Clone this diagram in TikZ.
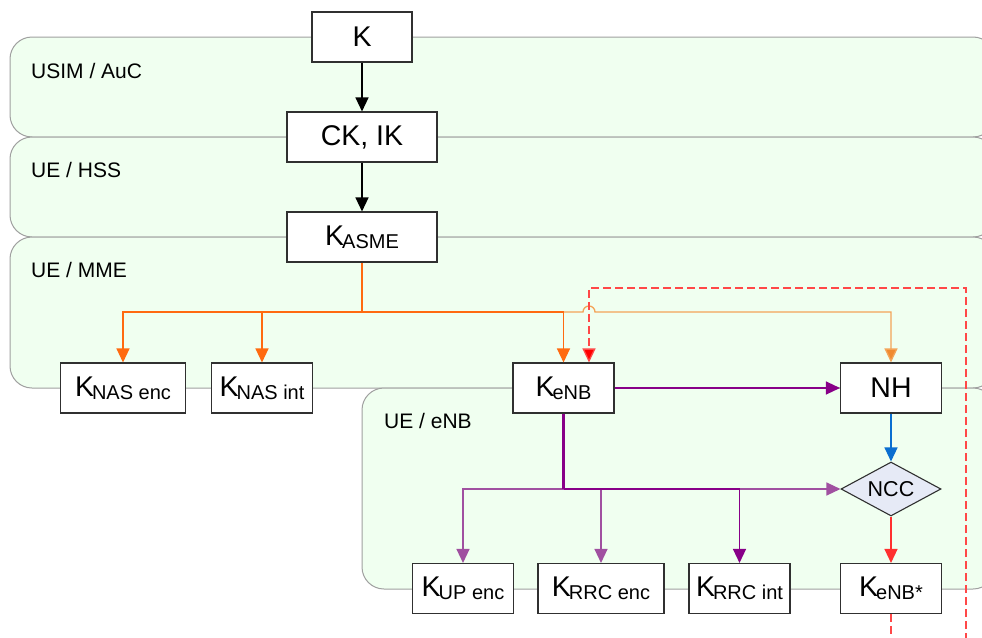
\documentclass[tikz,border=0pt]{standalone}
\usepackage{fontspec}
\setmainfont{Liberation Sans}
\usetikzlibrary{arrows.meta,shapes.geometric,calc}
\definecolor{regfill}{HTML}{F0FFF0}
\definecolor{regline}{HTML}{A0A0A0}
\definecolor{boxline}{HTML}{303030}
\definecolor{orD}{HTML}{FF6A10}
\definecolor{orL}{HTML}{F4A458}
\definecolor{orLA}{HTML}{F08A30}
\definecolor{purD}{HTML}{880088}
\definecolor{purL}{HTML}{A050A0}
\definecolor{blueA}{HTML}{0A6ED0}
\definecolor{redA}{HTML}{FF3030}
\definecolor{redD}{HTML}{FF4848}
\definecolor{nccfill}{HTML}{E6EAF6}
\newcommand{\Kwith}[1]{K\hspace{-2pt}\raisebox{-3pt}{\fontsize{20}{20}\selectfont #1}}
\begin{document}
\begin{tikzpicture}[x=1pt,y=-1pt,
  region/.style={draw=regline,fill=regfill,rounded corners=22pt,line width=1pt},
  keybox/.style={draw=boxline,fill=white,line width=1.1pt,minimum height=50pt,inner sep=0pt,font=\fontsize{28.5}{30}\selectfont},
  lbl/.style={inner sep=0pt,font=\fontsize{21}{22}\selectfont},
  arr/.style={-{Triangle[width=13pt,length=14pt]}},
  conn/.style={line width=1.3pt}]
\useasboundingbox (0,0) rectangle (982,637);
\clip (0,0) rectangle (982,637);
% regions
\draw[region] (10,37) rectangle (995,137);
\draw[region] (10,137) rectangle (995,237);
\draw[region] (10,237) rectangle (995,388);
\draw[region] (362,388) rectangle (995,589);
\node[lbl,anchor=base west] (l1) at (31,78) {USIM / AuC};
\node[lbl,anchor=base west] (l2) at (31,177) {UE / HSS};
\node[lbl,anchor=base west] (l3) at (31,277) {UE / MME};
\node[lbl,anchor=base west] (l4) at (384,428) {UE / eNB};
% boxes
\node[keybox,minimum width=100pt] (K) at (362,37) {K};
\node[keybox,minimum width=150pt] (CK) at (362,137) {CK, IK};
\node[keybox,minimum width=150pt] (KASME) at (362,237) {\Kwith{ASME}};
\node[keybox,minimum width=125pt] (KNASenc) at (123,388) {\Kwith{NAS enc}};
\node[keybox,minimum width=101pt] (KNASint) at (262,388) {\Kwith{NAS int}};
\node[keybox,minimum width=101pt] (KeNB) at (563.5,388) {\Kwith{eNB}};
\node[keybox,minimum width=101pt] (NH) at (891,388) {NH};
\node[diamond,draw=boxline,fill=nccfill,line width=1.1pt,minimum width=100pt,minimum height=54pt,aspect=1.85,inner sep=0pt,font=\fontsize{21.5}{22}\selectfont] (NCC) at (891,489) {NCC};
\node[keybox,minimum width=101pt] (KUP) at (463,588.5) {\Kwith{UP enc}};
\node[keybox,minimum width=126pt] (KRRCenc) at (601,588.5) {\Kwith{RRC enc}};
\node[keybox,minimum width=101pt] (KRRCint) at (739.5,588.5) {\Kwith{RRC int}};
\node[keybox,minimum width=101pt] (KeNBs) at (891,588.5) {\Kwith{eNB*}};
% black
\draw[conn,arr,black] (K) -- (CK);
\draw[conn,arr,black] (CK) -- (KASME);
% orange
\coordinate (oj) at (362,312);
\coordinate (oj2) at (KeNB.north |- oj);
\coordinate (hop) at ($(oj2)+(25.5,0)$);
\draw[conn,orL,-{Triangle[width=13pt,length=14pt,fill=orLA]}] (oj2) -- ($(hop)+(-6,0)$) arc[start angle=180,end angle=360,radius=6] -| (NH.north);
\draw[conn,orD] (KASME.south) -- (oj);
\draw[conn,orD,arr] (oj) -| (KNASenc.north);
\draw[conn,orD,arr] (oj) -| (KNASint.north);
\draw[conn,orD,arr] (oj) -| (KeNB.north);
% purple
\coordinate (pj) at (KeNB.south |- NCC.west);
\draw[conn,purD,arr] (KeNB.east) -- (NH.west);
\draw[conn,purL,arr] (pj) -- (NCC.west);
\draw[conn,purL,arr] (pj) -| (KUP.north);
\draw[conn,purL,arr] (pj) -| (KRRCenc.north);
\draw[conn,purD,arr] (pj) -| (KRRCint.north);
\draw[purD,line width=2.2pt] (KeNB.south) -- (pj);
% blue, red
\draw[conn,blueA,arr] (NH.south) -- (NCC.north);
\draw[conn,redA,arr] (NCC.south) -- (KeNBs.north);
% red dashed loop
\draw[conn,redD,dash pattern=on 8pt off 4pt,-{Triangle[width=13pt,length=14pt,fill=red]}] (KeNBs.south) -- ++(0,60) -| (966,288) -| (hop |- KeNB.north);
\end{tikzpicture}
\end{document}
